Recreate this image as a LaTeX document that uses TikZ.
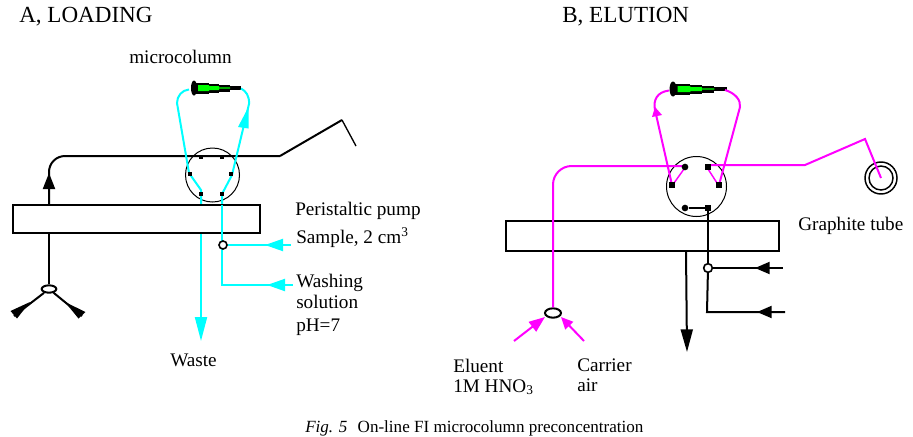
\documentclass[tikz,border=0pt]{standalone}
\usepackage{fontspec}
\setmainfont{Liberation Serif}
\usetikzlibrary{arrows.meta,shapes.geometric}

\definecolor{flowcyan}{RGB}{0,255,255}
\definecolor{flowpink}{RGB}{255,0,255}
\definecolor{packgreen}{RGB}{0,255,0}

\tikzset{
  blackline/.style={black, line width=1.5pt},
  cyanline/.style={flowcyan, line width=1.5pt},
  pinkline/.style={flowpink, line width=1.5pt},
  thinpink/.style={flowpink, line width=1.1pt},
  lbl/.style={font=\fontsize{14.4}{16}\selectfont, anchor=base west, inner sep=0pt},
  heading/.style={font=\fontsize{17.3}{19}\selectfont, anchor=base west, inner sep=0pt},
  pumpbox/.style={draw, line width=1.5pt, fill=white},
  valvering/.style={draw, circle, line width=0.75pt, inner sep=0pt},
  joint/.style={draw, circle, fill=white, line width=1.2pt, minimum size=6pt, inner sep=0pt},
  mixer/.style={draw, ellipse, fill=white, line width=1.5pt, minimum width=11pt, minimum height=5.5pt, inner sep=0pt},
  portsq/.style={fill=black, rectangle, minimum size=3.5pt, inner sep=0pt},
  portbig/.style={fill=black, rectangle, minimum size=4.5pt, inner sep=0pt},
  portround/.style={fill=black, circle, minimum size=5pt, inner sep=0pt},
  microcolumn/.pic={
    \fill[black] (0,0) ellipse (3 and 7.5);
    \fill[black] (2,-5.5) rectangle (15,5.5);
    \fill[black] (15,-4.5) rectangle (25,4.5);
    \fill[black] (25,-3.5) rectangle (36,3.5);
    \fill[black] (36,-1.7) rectangle (47,1.7);
    \fill[packgreen] (4,-3) -- (15,-3) -- (15,-2) -- (25,-2) -- (25,-0.7) -- (36,-0.7)
      -- (36,0.7) -- (25,0.7) -- (25,2) -- (15,2) -- (15,3) -- (4,3) -- cycle;
  },
}

\begin{document}
\begin{tikzpicture}[x=0.75pt, y=-0.75pt]
  \useasboundingbox (0,0) rectangle (913,436);

  % A, loading
  \node[heading] (titleA) at (19,22) {A, LOADING};
  \node[lbl] (columnlabel) at (129,63) {microcolumn};
  \node[lbl] (pumplabel) at (295,215) {Peristaltic pump};
  \node[lbl] (samplelabel) at (296,243) {Sample, 2 cm\textsuperscript{3}};
  \node[lbl] (washlabel) at (296,287) {Washing};
  \node[lbl] (sollabel) at (296,308) {solution};
  \node[lbl] (phlabel) at (296,331) {pH=7};
  \node[lbl] (wastelabel) at (170,366) {Waste};

  \node[valvering, minimum size=40.5pt] (valveA) at (212.5,175) {};
  \coordinate (pumpAtop) at (49,205);
  \coordinate (cornerA) at (49,156);
  \coordinate (kneeA) at (280,156);
  \coordinate (peakA) at (342,120);
  \coordinate (endA) at (356,146);
  \draw[blackline, rounded corners=12pt] (pumpAtop) -- (cornerA) -- (kneeA);
  \draw[blackline] (kneeA) -- (peakA);
  \draw[black, line width=1pt] (peakA) -- (endA);
  \draw[blackline, -{Triangle[length=12pt,width=9pt]}] (49,191) -- (49,173);

  \pic at (194,88) {microcolumn};

  % cyan flow
  \draw[cyanline] (201,204) -- (201,190) -- (189,173) -- (177,103)
    .. controls (177,96) and (182,90) .. (189,89.5);
  \draw[cyanline] (222,232) -- (222,194) -- (232,175) -- (249,104)
    .. controls (249.5,96) and (246,91) .. (241,88.5);
  \fill[flowcyan] (248.5,107) -- (238,127) -- (248.5,128.5) -- cycle;

  \foreach \n/\x/\y in {1/201/157, 2/222/157, 3/190/174, 4/231/174, 5/201/194, 6/222/194}
    \node[portsq] (a\n) at (\x,\y) {};

  \node[pumpbox, minimum width=185.25pt, minimum height=21pt, inner sep=0pt] (pumpA) at (136.5,219) {};
  \node[mixer] (mixA) at (49,289) {};
  \draw[blackline] (pumpA.south -| mixA) -- (mixA);
  \coordinate (leftinA) at (14,316);
  \coordinate (rightinA) at (82,316);
  \draw[blackline] (leftinA) -- (mixA);
  \draw[blackline] (rightinA) -- (mixA);
  \fill (10.5,311) -- (17,318.5) -- (30,302) -- cycle;
  \fill (85.5,312) -- (78.5,318.5) -- (65,302) -- cycle;

  \draw[cyanline] (222,205) -- (222,285) -- (293,285);
  \node[joint] (jointA) at (223,245) {};
  \draw[cyanline] (jointA) -- (291,245);
  \draw[cyanline, -{Triangle[length=13.5pt,width=9pt]}] (283,245) -- (265,245);
  \draw[cyanline, -{Triangle[length=13.5pt,width=9pt]}] (285,285) -- (267,285);
  \draw[cyanline] (pumpA.south -| a5) -- (201,320);
  \draw[cyanline, -{Triangle[length=18pt,width=9pt]}] (201,316) -- (201,341);

  % B, elution
  \node[heading] (titleB) at (562,22) {B, ELUTION};
  \node[lbl] (tubelabel) at (798,230) {Graphite tube};
  \node[lbl] (eluentlabel) at (453,372) {Eluent};
  \node[lbl] (acidlabel) at (453,392) {1M HNO\textsubscript{3}};
  \node[lbl] (carrierlabel) at (577,371) {Carrier};
  \node[lbl] (airlabel) at (577,391) {air};

  \node[valvering, minimum size=45pt] (valveB) at (696.5,186.5) {};
  \node[pumpbox, minimum width=204.75pt, minimum height=22.5pt, inner sep=0pt] (pumpB) at (642.5,236) {};

  \pic[xscale=1.15] at (673,89) {microcolumn};

  \node[draw, circle, line width=1.1pt, minimum size=24pt, inner sep=0pt] (tubeouter) at (881,178) {};
  \node[draw, circle, line width=1.1pt, minimum size=18pt, inner sep=0pt] (tubeinner) at (881,178) {};

  % magenta flow
  \node[mixer, minimum width=12pt, minimum height=7pt] (mixB) at (553,313) {};
  \coordinate (cornerB) at (553,166);
  \coordinate (startB) at (708,165);
  \coordinate (kneeB) at (805,165);
  \coordinate (peakB) at (865,139);
  \draw[pinkline, rounded corners=14pt] (mixB) -- (cornerB) -- (685,166);
  \draw[pinkline] (startB) -- (kneeB) -- (peakB) -- (tubeinner.center);
  \draw[pinkline] (672,185) -- (655,110) .. controls (653,100) and (657,92) .. (669,90.5);
  \draw[pinkline] (719,185) -- (740,107) .. controls (741,100) and (735,93) .. (725,90);
  \fill[flowpink] (655,107) -- (652,117) -- (662,115) -- cycle;
  \draw[thinpink] (674,183) -- (684,169);
  \draw[thinpink] (717,183) -- (708,169);
  \draw[pinkline, -{Triangle[length=12pt,width=9pt]}] (514,341) -- (545,317);
  \draw[pinkline, -{Triangle[length=9pt,width=8pt]}] (584,341) -- (561,317);

  \node[portround] (b1) at (685,167) {};
  \node[portbig] (b2) at (708,167) {};
  \node[portbig] (b3) at (672,185) {};
  \node[portbig] (b4) at (719,185) {};
  \node[portround] (b5) at (685,208) {};
  \node[portbig] (b6) at (708,208) {};

  % black flow
  \draw[blackline] (b5) -- (b6);
  \node[joint, minimum size=6.5pt] (jointB) at (708,268) {};
  \draw[blackline] (b6) -- (jointB);
  \draw[blackline] (jointB) -- (707,312) -- (785,312);
  \draw[blackline] (jointB) -- (783,268);
  \draw[blackline, -{Triangle[length=11pt,width=9pt]}] (771,268) -- (755,268);
  \draw[blackline, -{Triangle[length=11pt,width=9pt]}] (771,312) -- (757,312);
  \draw[blackline, -{Triangle[length=17pt,width=9pt]}] (686,251) -- (687,352);

  % Caption
  \node[lbl, font=\fontsize{12.8}{14}\selectfont] (caption) at (305,432) {\textit{Fig. 5}\hspace{0.6em}On-line FI microcolumn preconcentration};
\end{tikzpicture}
\end{document}
